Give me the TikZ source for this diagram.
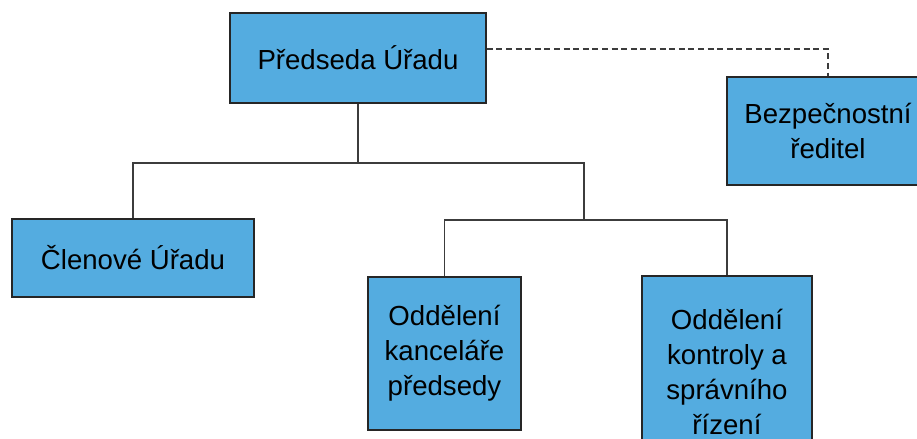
\documentclass[tikz,border=0pt]{standalone}
\usepackage{fontspec}
\setmainfont{Liberation Sans}
\usetikzlibrary{calc}
\definecolor{boxblue}{RGB}{84,172,224}
\definecolor{linegray}{RGB}{60,60,60}
\begin{document}
\begin{tikzpicture}[
	x=0.5pt, y=-0.5pt,
	unit/.style={rectangle, draw=black!85, line width=0.8pt, fill=boxblue, align=center, inner sep=0pt, font=\fontsize{13.8}{17.4}\selectfont},
	link/.style={draw=linegray, line width=0.6pt},
	dashlink/.style={link, dash pattern=on 3pt off 1.8pt}
	]
	\useasboundingbox (0,0) rectangle (917,439);

	\node[unit, minimum width=128pt, minimum height=45pt] (predseda) at (358,58) {Předseda Úřadu};
	\node[unit, minimum width=101pt, minimum height=54pt] (bezpecnost) at (828,131) {Bezpečnostní\\ředitel};
	\node[unit, minimum width=121pt, minimum height=39pt] (clenove) at (133,258) {Členové Úřadu};
	\node[unit, minimum width=76.5pt, minimum height=76.5pt] (kancelar) at (444.5,353.5) {Oddělení\\kanceláře\\předsedy};
	\node[unit, minimum width=85pt, minimum height=96pt] (kontrola) at (727,372) {Oddělení\\kontroly a\\správního\\řízení};

	\coordinate (bus) at (358,163);
	\coordinate (split) at (584,220);

	\draw[link] (predseda.south) -- (bus);
	\draw[link] (clenove.north) |- (bus) -| (split);
	\draw[link] (kancelar.north) |- (split) -| (kontrola.north);
	\draw[dashlink] ([yshift=4.5pt]predseda.east) -| (bezpecnost.north);
\end{tikzpicture}
\end{document}
